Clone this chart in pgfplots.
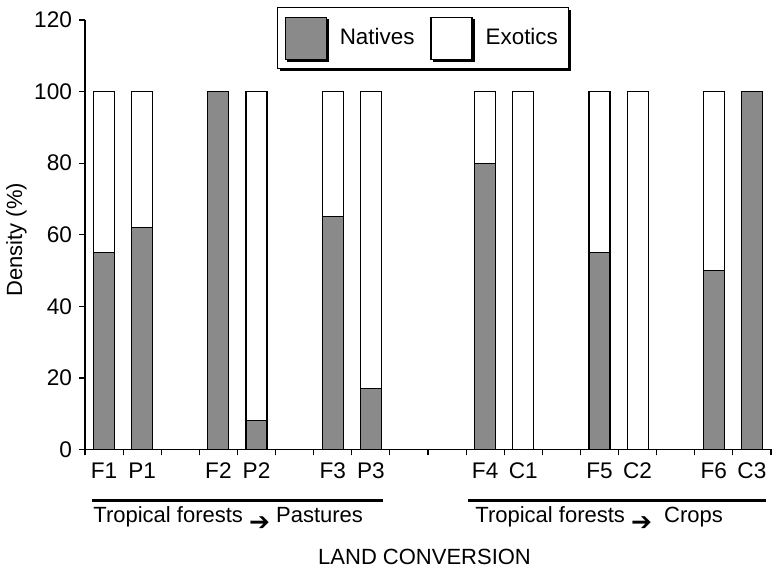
\documentclass[border=0pt]{standalone}
\usepackage{fontspec}
\setmainfont{Liberation Sans}
\newfontfamily\dejavu{DejaVu Sans}
\usepackage{pgfplots}
\pgfplotsset{compat=1.18}
\usetikzlibrary{shadows}
\definecolor{natgray}{RGB}{138,138,138}
\newcommand{\arrowsym}{\raisebox{-0.36em}{\dejavu\fontsize{12.5}{14}\selectfont ➔}}

\begin{document}
\begin{tikzpicture}[font=\fontsize{11}{13}\selectfont]
\begin{axis}[
  at={(0,0)}, anchor=south west,
  scale only axis, width=343pt, height=214.75pt,
  ybar stacked, bar width=10.5pt,
  xmin=-0.5, xmax=17.5, ymin=0, ymax=120,
  axis lines*=left,
  axis line style={line width=0.8pt},
  ytick={0,20,...,120},
  xtick={-0.5,0.5,...,17.5}, xticklabels={},
  extra x ticks={0,1,3,4,6,7,10,11,13,14,16,17},
  extra x tick labels={F1,P1,F2,P2,F3,P3,F4,C1,F5,C2,F6,C3},
  extra x tick style={tick style={draw=none}},
  tick align=outside, major tick length=3pt,
  tick style={line width=0.6pt, black},
  /pgf/number format/assume math mode=true,
  tick label style={font=\fontsize{11.3}{13}\selectfont},
  ylabel={Density (\%)},
  ylabel style={at={(axis description cs:-0.1,0.488)}, anchor=center, rotate=0},
  xlabel={LAND CONVERSION},
  xlabel style={at={(axis description cs:0.495,0)}, anchor=base, yshift=-57.5pt},
  clip=false,
  legend style={at={(axis description cs:0.28,1.03)}, anchor=north west,
    legend columns=2, draw=black, line width=0.5pt,
    drop shadow={shadow xshift=1.2pt, shadow yshift=-1.2pt, fill=black, opacity=1},
    fill=white, inner xsep=3.5pt, inner ysep=4.5pt,
    font=\fontsize{11.2}{13}\selectfont,
    /tikz/every odd column/.append style={column sep=4.5pt},
    /tikz/every even column/.append style={column sep=6pt}},
]
\addplot[fill=natgray, draw=black, line width=0.6pt,
  legend image code/.code={\draw[fill=natgray, draw=black, line width=0.6pt] (0pt,-10.5pt) rectangle (20.5pt,10.5pt);}]
  coordinates {(0,55) (1,62) (3,100) (4,8) (6,65) (7,17) (10,80) (11,0) (13,55) (14,0) (16,50) (17,100)};
\addlegendentry{Natives}
\addplot[fill=white, draw=black, line width=0.6pt,
  legend image code/.code={\draw[fill=white, draw=black, line width=0.6pt] (0pt,-10.5pt) rectangle (20.5pt,10.5pt);}]
  coordinates {(0,45) (1,38) (3,0) (4,92) (6,35) (7,83) (10,20) (11,100) (13,45) (14,100) (16,50) (17,0)};
\addlegendentry{Exotics}
\end{axis}
\draw[line width=1.4pt] (3.5pt,-25.6pt) -- (149pt,-25.6pt);
\draw[line width=1.4pt] (191.5pt,-25.6pt) -- (340.5pt,-25.6pt);
\node[anchor=base west, inner sep=0pt] at (4pt,-36.75pt) {Tropical forests \arrowsym\ Pastures};
\node[anchor=base west, inner sep=0pt] at (195pt,-36.75pt) {Tropical forests \arrowsym\ \ Crops};
\pgfresetboundingbox
\path[use as bounding box] (-42.5pt,-58.75pt) rectangle (344pt,224.75pt);
\end{tikzpicture}
\end{document}
